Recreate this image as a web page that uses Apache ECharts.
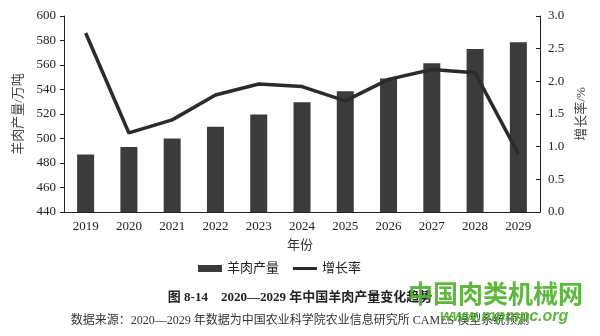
<!DOCTYPE html>
<html><head><meta charset="utf-8">
<script src="https://cdn.jsdelivr.net/npm/echarts@6/dist/echarts.min.js"></script>
<style>html,body{margin:0;padding:0;background:#fff}#c{width:600px;height:336px}</style>
</head><body><div id="c"></div>
<script>
const years = ['2019','2020','2021','2022','2023','2024','2025','2026','2027','2028','2029'];
const production = [487, 493, 500, 509.5, 519.5, 529.5, 538.5, 549, 561.5, 573, 578.5];
const growth = [2.74, 1.21, 1.41, 1.79, 1.96, 1.92, 1.70, 2.03, 2.18, 2.13, 0.89];
const leftTicks = {min: 440, max: 600, interval: 20};
const rightTicks = {min: 0, max: 3, interval: 0.5};

const serif = '"Liberation Serif","Times New Roman","Noto Sans CJK SC",serif';
const cjk = '"Liberation Serif","Noto Sans CJK SC",serif';
const chart = echarts.init(document.getElementById('c'));
chart.setOption({
  animation: false,
  backgroundColor: '#fff',
  grid: {left: 64, right: 60, top: 16, bottom: 124},
  legend: {
    left: 193, top: 257, itemWidth: 24, itemHeight: 7, itemGap: 14,
    textStyle: {fontFamily: cjk, fontSize: 13, color: '#222'},
    data: [
      {name: '羊肉产量', icon: 'rect'},
      {name: '增长率', icon: 'path://M0,0H24V3H0Z'}
    ]
  },
  xAxis: {
    type: 'category', data: years,
    axisLine: {lineStyle: {color: '#222', width: 1}},
    axisTick: {inside: true, length: 4, lineStyle: {color: '#222'}},
    axisLabel: {fontFamily: serif, fontSize: 13, color: '#222', margin: 8}
  },
  yAxis: [
    {type: 'value', min: leftTicks.min, max: leftTicks.max, interval: leftTicks.interval,
     name: '羊肉产量/万吨', nameLocation: 'middle', nameRotate: 90, nameGap: 39,
     nameTextStyle: {fontFamily: cjk, fontSize: 13, color: '#444'},
     axisLine: {show: true, lineStyle: {color: '#222'}},
     axisTick: {show: true, length: 4, lineStyle: {color: '#222'}},
     splitLine: {show: false},
     axisLabel: {fontFamily: serif, fontSize: 13, color: '#222', margin: 8}},
    {type: 'value', min: rightTicks.min, max: rightTicks.max, interval: rightTicks.interval,
     name: '增长率/%', nameLocation: 'middle', nameRotate: 90, nameGap: 34,
     nameTextStyle: {fontFamily: cjk, fontSize: 13, color: '#444'},
     axisLine: {show: true, lineStyle: {color: '#222'}},
     axisTick: {show: true, inside: true, length: 4, lineStyle: {color: '#222'}},
     splitLine: {show: false},
     axisLabel: {fontFamily: serif, fontSize: 13, color: '#222', margin: 8,
       formatter: v => v.toFixed(1)}}
  ],
  series: [
    {name: '羊肉产量', type: 'bar', data: production, barWidth: 17,
     itemStyle: {color: '#3b3b3b'}},
    {name: '增长率', type: 'line', yAxisIndex: 1, data: growth, symbol: 'none',
     lineStyle: {color: '#2b2b2b', width: 3.5}, itemStyle: {color: '#2b2b2b'}}
  ],
  graphic: [
    {type: 'text', left: 'center', top: 238, style: {text: '年份', font: '13px "Noto Sans CJK SC"', fill: '#333'}},
    {type: 'text', left: 'center', top: 291, style: {text: '图 8-14    2020—2029 年中国羊肉产量变化趋势', font: 'bold 13px "Liberation Serif","Noto Sans CJK SC"', fill: '#222'}},
    {type: 'text', left: 'center', top: 315, style: {text: '数据来源：2020—2029 年数据为中国农业科学院农业信息研究所 CAMES 模型系统预测', font: '12px "Liberation Serif","Noto Sans CJK SC"', fill: '#333'}},
    {type: 'text', left: 408, top: 281, style: {text: '中国肉类机械网', font: 'bold 25px "Noto Sans CJK SC"', fill: 'rgba(76,176,40,0.9)'}},
    {type: 'text', left: 440, top: 309, style: {text: 'www.mpmpc.org', font: 'italic bold 16px "Liberation Sans"', fill: 'rgba(76,176,40,0.9)'}}
  ]
});
</script></body></html>
